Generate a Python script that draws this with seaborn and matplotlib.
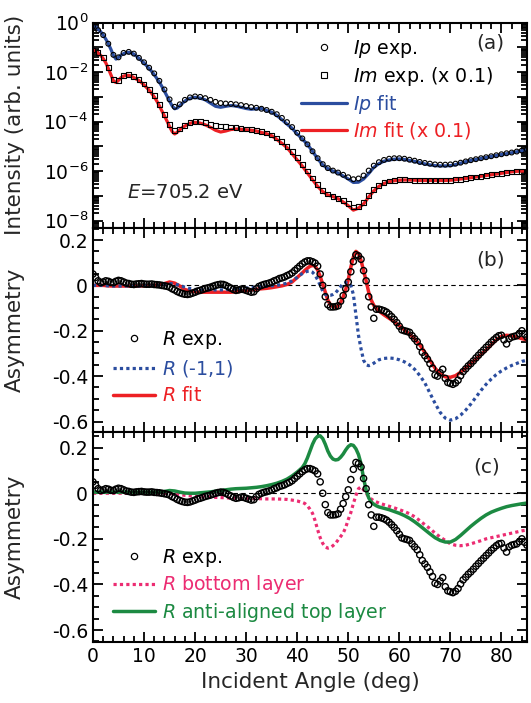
import numpy as np
import matplotlib
matplotlib.use("Agg")
import matplotlib.pyplot as plt
import seaborn as sns
from matplotlib.lines import Line2D
from matplotlib.ticker import MultipleLocator, LogLocator, NullFormatter, FuncFormatter

# ==========================================
# DATOS
# ==========================================
# Panel (a): intensidades en log10
EXP_A_ANGLE = np.arange(0, 86, 1.0)
IP_EXP_LOG = [
    -0.15, -0.30, -0.50, -0.85, -1.30, -1.40, -1.22, -1.18, -1.25, -1.42,
    -1.60, -1.82, -2.05, -2.35, -2.70, -3.10, -3.40, -3.30, -3.12, -3.02,
    -2.98, -3.00, -3.05, -3.12, -3.20, -3.25, -3.27, -3.28, -3.30, -3.33,
    -3.37, -3.41, -3.44, -3.48, -3.53, -3.60, -3.70, -3.85, -4.02, -4.22,
    -4.45, -4.68, -4.92, -5.20, -5.48, -5.72, -5.88, -5.98, -6.06, -6.15,
    -6.25, -6.33, -6.30, -6.18, -5.98, -5.78, -5.64, -5.55, -5.50, -5.48,
    -5.48, -5.50, -5.54, -5.58, -5.63, -5.67, -5.70, -5.73, -5.74, -5.74,
    -5.73, -5.70, -5.66, -5.61, -5.56, -5.52, -5.48, -5.44, -5.40, -5.36,
    -5.32, -5.28, -5.25, -5.21, -5.17, -5.12,
]
IM_EXP_LOG = [
    -1.10, -1.20, -1.42, -1.80, -2.30, -2.35, -2.15, -2.10, -2.18, -2.30,
    -2.48, -2.70, -2.95, -3.30, -3.70, -4.10, -4.35, -4.30, -4.15, -4.05,
    -4.00, -4.00, -4.05, -4.10, -4.15, -4.18, -4.20, -4.22, -4.25, -4.28,
    -4.30, -4.33, -4.36, -4.40, -4.46, -4.54, -4.66, -4.82, -5.00, -5.22,
    -5.46, -5.72, -6.00, -6.28, -6.55, -6.78, -6.93, -7.02, -7.10, -7.20,
    -7.32, -7.45, -7.42, -7.28, -7.00, -6.75, -6.58, -6.47, -6.40, -6.37,
    -6.35, -6.35, -6.36, -6.37, -6.38, -6.38, -6.38, -6.38, -6.38, -6.38,
    -6.37, -6.35, -6.33, -6.30, -6.27, -6.24, -6.21, -6.18, -6.15, -6.12,
    -6.09, -6.06, -6.04, -6.02, -6.01, -6.00,
]

FIT_A_ANGLE = np.concatenate([np.arange(0, 20, 0.5), np.arange(20, 86, 1.0)])
IP_FIT_LOG = [
    -0.12, -0.17, -0.25, -0.36, -0.50, -0.66, -0.85, -1.07, -1.32, -1.47,
    -1.40, -1.31, -1.25, -1.21, -1.20, -1.22, -1.27, -1.35, -1.44, -1.53,
    -1.63, -1.74, -1.85, -1.97, -2.10, -2.25, -2.40, -2.58, -2.77, -2.97,
    -3.17, -3.36, -3.48, -3.45, -3.36, -3.26, -3.17, -3.10, -3.06, -3.03,
    -3.02, -3.05, -3.12, -3.25, -3.38, -3.42, -3.38, -3.35, -3.37, -3.42,
    -3.47, -3.50, -3.48, -3.47, -3.55, -3.62, -3.75, -3.92, -4.10, -4.27,
    -4.50, -4.70, -4.92, -5.20, -5.50, -5.75, -5.90, -6.00, -6.08, -6.20,
    -6.32, -6.46, -6.45, -6.32, -6.10, -5.85, -5.70, -5.60, -5.55, -5.52,
    -5.51, -5.53, -5.57, -5.61, -5.66, -5.71, -5.75, -5.78, -5.79, -5.79,
    -5.78, -5.74, -5.68, -5.62, -5.57, -5.53, -5.49, -5.45, -5.41, -5.37,
    -5.33, -5.30, -5.26, -5.22, -5.18, -5.14,
]
IM_FIT_LOG = [
    -1.10, -1.15, -1.22, -1.32, -1.45, -1.62, -1.85, -2.10, -2.35, -2.42,
    -2.33, -2.22, -2.16, -2.13, -2.13, -2.16, -2.22, -2.28, -2.34, -2.42,
    -2.52, -2.62, -2.73, -2.86, -3.00, -3.17, -3.36, -3.57, -3.77, -3.98,
    -4.20, -4.40, -4.50, -4.43, -4.33, -4.24, -4.18, -4.12, -4.07, -4.04,
    -4.03, -4.06, -4.13, -4.23, -4.35, -4.42, -4.38, -4.32, -4.30, -4.31,
    -4.33, -4.35, -4.38, -4.44, -4.49, -4.57, -4.72, -4.88, -5.05, -5.30,
    -5.55, -5.80, -6.08, -6.35, -6.62, -6.83, -6.97, -7.03, -7.12, -7.25,
    -7.40, -7.58, -7.50, -7.33, -7.05, -6.80, -6.62, -6.50, -6.43, -6.39,
    -6.37, -6.36, -6.36, -6.37, -6.38, -6.38, -6.38, -6.38, -6.38, -6.38,
    -6.37, -6.35, -6.32, -6.30, -6.27, -6.24, -6.21, -6.18, -6.15, -6.12,
    -6.09, -6.06, -6.03, -6.01, -6.00, -5.99,
]

# Paneles (b) y (c): asimetria
EXP_R_ANGLE = np.arange(0, 85.5, 0.5)
R_EXP = [
    0.050, 0.035, 0.020, 0.012, 0.015, 0.020, 0.018, 0.013, 0.012, 0.018,
    0.022, 0.020, 0.015, 0.010, 0.008, 0.005, 0.004, 0.006, 0.007, 0.008,
    0.006, 0.005, 0.005, 0.006, 0.004, 0.003, 0.002, 0.000, -0.002, -0.004,
    -0.008, -0.015, -0.020, -0.027, -0.032, -0.036, -0.039, -0.040, -0.038, -0.034,
    -0.030, -0.025, -0.022, -0.018, -0.014, -0.011, -0.008, -0.004, 0.000, 0.003,
    0.005, 0.004, 0.000, -0.006, -0.012, -0.018, -0.022, -0.020, -0.017, -0.018,
    -0.022, -0.026, -0.030, -0.028, -0.015, -0.005, 0.000, 0.004, 0.007, 0.010,
    0.014, 0.020, 0.024, 0.030, 0.033, 0.037, 0.043, 0.048, 0.055, 0.065,
    0.075, 0.085, 0.095, 0.103, 0.108, 0.108, 0.104, 0.098, 0.085, 0.050,
    0.000, -0.050, -0.085, -0.095, -0.095, -0.094, -0.090, -0.070, -0.045, -0.015,
    0.015, 0.060, 0.105, 0.135, 0.130, 0.115, 0.065, 0.020, -0.050, -0.095,
    -0.145, -0.105, -0.105, -0.108, -0.112, -0.118, -0.127, -0.138, -0.150, -0.164,
    -0.180, -0.196, -0.200, -0.203, -0.207, -0.222, -0.235, -0.248, -0.270, -0.295,
    -0.310, -0.325, -0.345, -0.365, -0.395, -0.400, -0.385, -0.370, -0.410, -0.428,
    -0.432, -0.436, -0.430, -0.418, -0.398, -0.380, -0.368, -0.355, -0.345, -0.333,
    -0.320, -0.308, -0.296, -0.285, -0.273, -0.262, -0.250, -0.240, -0.230, -0.222,
    -0.220, -0.240, -0.258, -0.235, -0.228, -0.225, -0.222, -0.212, -0.200, -0.215,
    -0.228,
]

FIT_R_ANGLE = np.concatenate([np.arange(0, 40, 1.0), np.arange(40, 56, 0.5), np.arange(56, 86, 1.0)])
R_FIT = [
    0.000, 0.000, 0.000, -0.002, -0.003, -0.003, -0.003, -0.003, -0.003, -0.003,
    -0.002, -0.001, 0.000, 0.003, 0.008, 0.015, 0.010, -0.003, -0.018, -0.025,
    -0.028, -0.030, -0.030, -0.030, -0.030, -0.030, -0.030, -0.030, -0.028, -0.026,
    -0.023, -0.020, -0.017, -0.015, -0.013, -0.010, -0.006, -0.002, 0.004, 0.015,
    0.035, 0.045, 0.055, 0.066, 0.076, 0.084, 0.088, 0.084,
    0.068, 0.040, 0.005, -0.030, -0.065, -0.085, -0.094, -0.096,
    -0.090, -0.075, -0.050, -0.018, 0.025, 0.080, 0.125, 0.150,
    0.140, 0.110, 0.065, 0.020, -0.030, -0.065, -0.088, -0.102,
    -0.113, -0.130, -0.145, -0.160, -0.178, -0.196, -0.215, -0.235, -0.262, -0.295,
    -0.330, -0.365, -0.390, -0.403, -0.405, -0.398, -0.383, -0.365, -0.345, -0.325,
    -0.305, -0.285, -0.262, -0.240, -0.225, -0.220, -0.222, -0.228, -0.235, -0.240,
]
R_M11 = [
    0.000, 0.000, 0.000, -0.002, -0.003, -0.003, -0.003, -0.003, -0.003, -0.003,
    -0.002, -0.001, 0.000, 0.002, 0.005, 0.008, 0.006, 0.000, -0.008, -0.014,
    -0.018, -0.020, -0.020, -0.020, -0.020, -0.020, -0.019, -0.018, -0.016, -0.014,
    -0.012, -0.010, -0.008, -0.006, -0.004, -0.002, 0.000, 0.004, 0.010, 0.020,
    0.035, 0.045, 0.052, 0.058, 0.062, 0.063, 0.058, 0.045,
    0.025, 0.000, -0.025, -0.040, -0.045, -0.044, -0.040, -0.033,
    -0.020, -0.005, 0.008, 0.012, 0.010, 0.000, -0.040, -0.130,
    -0.220, -0.280, -0.330, -0.350, -0.354, -0.350, -0.343, -0.335,
    -0.328, -0.322, -0.320, -0.322, -0.328, -0.337, -0.350, -0.370, -0.397, -0.430,
    -0.475, -0.520, -0.560, -0.585, -0.594, -0.588, -0.572, -0.550, -0.523, -0.493,
    -0.463, -0.436, -0.413, -0.393, -0.377, -0.364, -0.353, -0.344, -0.335, -0.330,
]
R_BOTTOM = [
    0.000, 0.000, 0.000, 0.000, 0.000, 0.000, 0.000, 0.000, 0.000, 0.000,
    0.000, 0.000, 0.000, 0.000, 0.000, 0.000, -0.003, -0.006, -0.009, -0.011,
    -0.013, -0.015, -0.016, -0.017, -0.018, -0.019, -0.020, -0.021, -0.022, -0.022,
    -0.023, -0.023, -0.024, -0.024, -0.025, -0.025, -0.025, -0.026, -0.027, -0.030,
    -0.034, -0.037, -0.040, -0.045, -0.055, -0.070, -0.088, -0.120,
    -0.160, -0.195, -0.220, -0.235, -0.241, -0.238, -0.230, -0.220,
    -0.205, -0.190, -0.175, -0.150, -0.115, -0.085, -0.045, -0.010,
    0.020, 0.028, 0.015, 0.000, -0.015, -0.025, -0.033, -0.038,
    -0.043, -0.050, -0.057, -0.064, -0.072, -0.080, -0.090, -0.103, -0.120, -0.138,
    -0.155, -0.175, -0.192, -0.207, -0.222, -0.228, -0.230, -0.228, -0.222, -0.215,
    -0.208, -0.200, -0.195, -0.190, -0.185, -0.180, -0.175, -0.170, -0.165, -0.161,
]
R_ANTI = [
    0.005, 0.005, 0.005, 0.005, 0.005, 0.005, 0.005, 0.005, 0.005, 0.005,
    0.005, 0.005, 0.005, 0.005, 0.008, 0.012, 0.010, 0.005, 0.001, 0.000,
    0.000, 0.002, 0.004, 0.006, 0.009, 0.012, 0.015, 0.018, 0.020, 0.021,
    0.022, 0.024, 0.026, 0.029, 0.033, 0.038, 0.044, 0.052, 0.062, 0.076,
    0.093, 0.103, 0.113, 0.130, 0.155, 0.185, 0.215, 0.238,
    0.250, 0.252, 0.240, 0.215, 0.185, 0.163, 0.150, 0.146,
    0.148, 0.158, 0.172, 0.190, 0.205, 0.213, 0.210, 0.195,
    0.170, 0.130, 0.065, 0.015, -0.020, -0.038, -0.048, -0.055,
    -0.060, -0.066, -0.072, -0.080, -0.088, -0.098, -0.110, -0.125, -0.142, -0.160,
    -0.178, -0.195, -0.207, -0.214, -0.214, -0.203, -0.185, -0.165, -0.145, -0.127,
    -0.110, -0.095, -0.083, -0.074, -0.066, -0.059, -0.054, -0.050, -0.046, -0.043,
]

# ==========================================
# ESTILO
# ==========================================
sns.set_theme(style="ticks")
plt.rcParams.update({
    'font.family': ['DejaVu Sans'],
    'mathtext.fontset': 'dejavusans',
    'axes.unicode_minus': False,
    'axes.linewidth': 1.5,
    'xtick.labelsize': 13.5,
    'ytick.labelsize': 13.5,
    'axes.edgecolor': 'black',
    'xtick.color': 'black',
    'ytick.color': 'black',
})

BLUE = "#2b4d9f"
RED = "#ed2024"
GREEN = "#1c8a42"
PINK = "#ec2c72"

fig = plt.figure(figsize=(5.31, 7.03), dpi=100)
ax_a = fig.add_axes([0.1751, 0.6757, 0.8173, 0.2920])
ax_b = fig.add_axes([0.1751, 0.3859, 0.8173, 0.2898])
ax_c = fig.add_axes([0.1751, 0.0863, 0.8173, 0.2996])


def estilo_ejes(ax):
    ax.set_xlim(0, 85)
    ax.xaxis.set_major_locator(MultipleLocator(10))
    ax.xaxis.set_minor_locator(MultipleLocator(2))
    ax.tick_params(which='both', direction='in', top=True, right=True, width=1.3)
    ax.tick_params(which='major', length=7)
    ax.tick_params(which='minor', length=4)


def fmt_asim(v, pos):
    if abs(v) < 1e-9:
        return "0"
    return f"{v:.1f}"


def fmt_log(v, pos):
    e = int(round(np.log10(v)))
    return f"$10^{{{e}}}$" if e % 2 == 0 else ""


def curva(ax, x, y, color, ls='-', lw=2.3):
    sns.lineplot(x=x, y=y, ax=ax, color=color, lw=lw, linestyle=ls,
                 estimator=None, sort=False, legend=False)


def puntos(ax, x, y, marker, s, lw=0.8):
    sns.scatterplot(x=x, y=y, ax=ax, marker=marker, s=s, facecolors='none',
                    edgecolor='black', linewidth=lw, legend=False, zorder=3)


# ---------- Panel (a) ----------
ax_a.set_yscale('log')
curva(ax_a, FIT_A_ANGLE, 10 ** np.array(IP_FIT_LOG), BLUE)
curva(ax_a, FIT_A_ANGLE, 10 ** np.array(IM_FIT_LOG), RED)
puntos(ax_a, EXP_A_ANGLE, 10 ** np.array(IP_EXP_LOG), 'o', 12)
puntos(ax_a, EXP_A_ANGLE, 10 ** np.array(IM_EXP_LOG), 's', 12)
estilo_ejes(ax_a)
ax_a.set_ylim(5e-9, 1)
ax_a.yaxis.set_major_locator(LogLocator(base=10, numticks=20))
ax_a.yaxis.set_minor_locator(LogLocator(base=10, subs=np.arange(2, 10), numticks=20))
ax_a.yaxis.set_major_formatter(FuncFormatter(fmt_log))
ax_a.yaxis.set_minor_formatter(NullFormatter())
ax_a.tick_params(axis='x', labelbottom=False)
ax_a.set_xlabel("")
ax_a.set_ylabel("Intensity (arb. units)", fontsize=15.5)
ax_a.yaxis.set_label_coords(-0.157, 0.5)
ax_a.text(0.915, 0.90, "(a)", transform=ax_a.transAxes, ha='center', va='center', fontsize=14.5)
ax_a.text(0.078, 0.175, "$E$=705.2 eV", transform=ax_a.transAxes, ha='left', va='center', fontsize=14)

h_a = [
    Line2D([], [], ls='none', marker='o', mfc='none', mec='black', ms=4.5, mew=0.8),
    Line2D([], [], ls='none', marker='s', mfc='none', mec='black', ms=4.5, mew=0.8),
    Line2D([], [], color=BLUE, lw=2.3),
    Line2D([], [], color=RED, lw=2.3),
]
l_a = [r"$\mathit{Ip}$ exp.", r"$\mathit{Im}$ exp. (x 0.1)", r"$\mathit{Ip}$ fit", r"$\mathit{Im}$ fit (x 0.1)"]
leg = ax_a.legend(h_a, l_a, loc='upper left', bbox_to_anchor=(0.48, 0.925), frameon=False,
                  handlelength=2.4, handletextpad=0.3, labelspacing=0.25, borderpad=0,
                  borderaxespad=0, fontsize=13.7)
for t, c in zip(leg.get_texts(), ['black', 'black', BLUE, RED]):
    t.set_color(c)

# ---------- Panel (b) ----------
ax_b.axhline(0, color='black', lw=0.8, ls=(0, (4, 3)), zorder=1)
curva(ax_b, FIT_R_ANGLE, R_FIT, RED, lw=2.5)
curva(ax_b, FIT_R_ANGLE, R_M11, BLUE, ls=(0, (1, 1)))
puntos(ax_b, EXP_R_ANGLE, R_EXP, 'o', 20, lw=1.0)
estilo_ejes(ax_b)
ax_b.set_ylim(-0.645, 0.253)
ax_b.yaxis.set_major_locator(MultipleLocator(0.2))
ax_b.yaxis.set_minor_locator(MultipleLocator(0.05))
ax_b.yaxis.set_major_formatter(FuncFormatter(fmt_asim))
ax_b.tick_params(axis='x', labelbottom=False)
ax_b.set_xlabel("")
ax_b.set_ylabel("Asymmetry", fontsize=15.5)
ax_b.yaxis.set_label_coords(-0.157, 0.5)
ax_b.text(0.915, 0.843, "(b)", transform=ax_b.transAxes, ha='center', va='center', fontsize=14.5)

h_b = [
    Line2D([], [], ls='none', marker='o', mfc='none', mec='black', ms=4.5, mew=0.9),
    Line2D([], [], color=BLUE, lw=2.3, ls=(0, (1, 1))),
    Line2D([], [], color=RED, lw=2.5),
]
l_b = [r"$\mathit{R}$ exp.", r"$\mathit{R}$ (-1,1)", r"$\mathit{R}$ fit"]
leg = ax_b.legend(h_b, l_b, loc='upper left', bbox_to_anchor=(0.046, 0.505), frameon=False,
                  handlelength=2.2, handletextpad=0.37, labelspacing=0.38, borderpad=0,
                  borderaxespad=0, fontsize=13.7)
for t, c in zip(leg.get_texts(), ['black', BLUE, RED]):
    t.set_color(c)

# ---------- Panel (c) ----------
ax_c.axhline(0, color='black', lw=0.8, ls=(0, (4, 3)), zorder=1)
curva(ax_c, FIT_R_ANGLE, R_BOTTOM, PINK, ls=(0, (1, 1)))
curva(ax_c, FIT_R_ANGLE, R_ANTI, GREEN, lw=2.5)
puntos(ax_c, EXP_R_ANGLE, R_EXP, 'o', 20, lw=1.0)
estilo_ejes(ax_c)
ax_c.set_ylim(-0.654, 0.27)
ax_c.yaxis.set_major_locator(MultipleLocator(0.2))
ax_c.yaxis.set_minor_locator(MultipleLocator(0.05))
ax_c.yaxis.set_major_formatter(FuncFormatter(fmt_asim))
ax_c.set_xlabel("Incident Angle (deg)", fontsize=15.5)
ax_c.set_ylabel("Asymmetry", fontsize=15.5)
ax_c.yaxis.set_label_coords(-0.157, 0.5)
ax_c.text(0.908, 0.832, "(c)", transform=ax_c.transAxes, ha='center', va='center', fontsize=14.5)

h_c = [
    Line2D([], [], ls='none', marker='o', mfc='none', mec='black', ms=4.5, mew=0.9),
    Line2D([], [], color=PINK, lw=2.3, ls=(0, (1, 1))),
    Line2D([], [], color=GREEN, lw=2.5),
]
l_c = [r"$\mathit{R}$ exp.", r"$\mathit{R}$ bottom layer", r"$\mathit{R}$ anti-aligned top layer"]
leg = ax_c.legend(h_c, l_c, loc='upper left', bbox_to_anchor=(0.046, 0.452), frameon=False,
                  handlelength=2.2, handletextpad=0.37, labelspacing=0.22, borderpad=0,
                  borderaxespad=0, fontsize=13.7)
for t, c in zip(leg.get_texts(), ['black', PINK, GREEN]):
    t.set_color(c)

fig.savefig("out.png", dpi=100)
